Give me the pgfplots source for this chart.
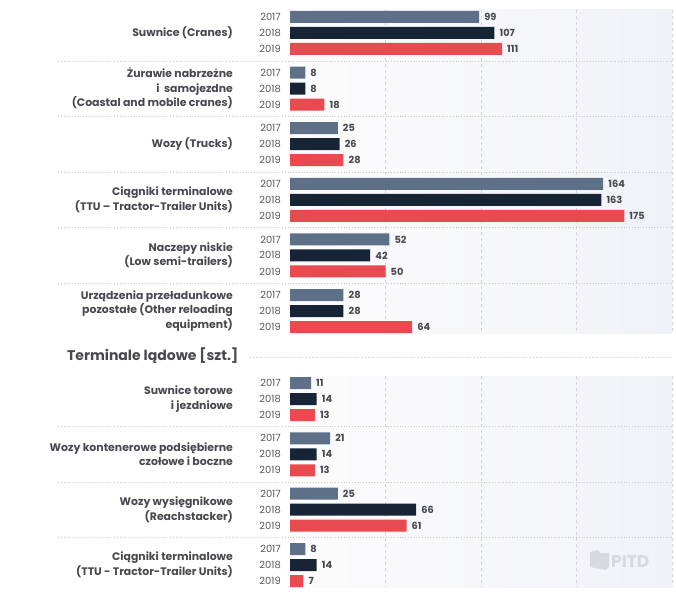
\documentclass[border=0pt]{standalone}
\usepackage{pgfplots}
\pgfplotsset{compat=1.18}
\usepackage{fontspec}
\setmainfont{Poppins}
\definecolor{cA}{RGB}{94,112,135}
\definecolor{cB}{RGB}{23,36,53}
\definecolor{cC}{RGB}{232,74,80}
\definecolor{txt}{RGB}{72,72,80}
\definecolor{yr}{RGB}{85,85,92}
\definecolor{sep}{RGB}{200,200,205}
\definecolor{grd}{RGB}{210,211,216}
\definecolor{bgL}{RGB}{252,252,253}
\definecolor{bgR}{RGB}{241,242,247}
\definecolor{wm}{RGB}{214,217,224}
\pgfplotsset{
  panel/.style={
    scale only axis, width=382pt,
    xmin=0, xmax=200, y dir=reverse,
    xbar, bar width=12pt, bar shift=0pt,
    axis line style={draw=none}, major tick length=0pt,
    xtick={50,100,150,200}, xticklabels={}, xmajorgrids,
    grid style={grd, dashed, line width=0.7pt},
    axis background/.style={left color=bgL, right color=bgR, shading angle=90},
    yticklabel style={font=\fontsize{9.9}{10}\selectfont, text=yr, inner sep=0pt, anchor=east, xshift=-9pt},
    /pgf/number format/assume math mode=true,
    nodes near coords,
    nodes near coords style={font=\bfseries\fontsize{9.8}{10}\selectfont, text=txt, anchor=west, inner sep=0pt, xshift=5pt},
    clip=false,
  },
}
\tikzset{cat/.style={anchor=east, align=right, text=txt, font=\bfseries\fontsize{10.9}{14.5}\selectfont, inner sep=0pt}}
\begin{document}
\begin{tikzpicture}
\path[use as bounding box] (0,0) rectangle (676pt,594pt);
% upper panel
\begin{axis}[panel, height=323pt, ymin=10, ymax=333, at={(290pt,261pt)}, anchor=south west,
  ytick={17,33,49,72.6,88.6,104.6,128.2,144.2,160.2,183.8,199.8,215.8,239.4,255.4,271.4,295,311,327},
  yticklabels={2017,2018,2019,2017,2018,2019,2017,2018,2019,2017,2018,2019,2017,2018,2019,2017,2018,2019}]
\addplot[fill=cA, draw=none] coordinates {(99,17) (8,72.6) (25,128.2) (164,183.8) (52,239.4) (28,295)};
\addplot[fill=cB, draw=none] coordinates {(107,33) (8,88.6) (26,144.2) (163,199.8) (42,255.4) (28,311)};
\addplot[fill=cC, draw=none] coordinates {(111,49) (18,104.6) (28,160.2) (175,215.8) (50,271.4) (64,327)};
\pgfplotsinvokeforeach{61,116.6,172.2,227.8,283.4}{
  \draw[sep, dotted, line width=0.8pt] (axis cs:-121.5,#1) -- (axis cs:200,#1);
}
\node[cat] at (axis cs:-29.8,33) {Suwnice (Cranes)};
\node[cat] at (axis cs:-29.8,88.6) {Żurawie nabrzeżne\\i\ \ samojezdne\\(Coastal and mobile cranes)};
\node[cat] at (axis cs:-29.8,144.2) {Wozy (Trucks)};
\node[cat] at (axis cs:-29.8,199.8) {Ciągniki terminalowe\\(TTU – Tractor-Trailer Units)};
\node[cat] at (axis cs:-29.8,255.4) {Naczepy niskie\\(Low semi-trailers)};
\node[cat] at (axis cs:-29.8,311) {Urządzenia przeładunkowe\\pozostałe (Other reloading\\equipment)};
\end{axis}
% header
\node[anchor=west, inner sep=0pt, text=txt, font=\bfseries\fontsize{14}{16}\selectfont] at (67pt,238pt) {Terminale lądowe [szt.]};
\draw[sep, dotted, line width=0.8pt] (250pt,237pt) -- (672pt,237pt);
% lower panel
\begin{axis}[panel, height=211pt, ymin=376, ymax=587, at={(290pt,7pt)}, anchor=south west,
  ytick={383,399,415,438.3,454.3,470.3,493.7,509.7,525.7,549,565,581},
  yticklabels={2017,2018,2019,2017,2018,2019,2017,2018,2019,2017,2018,2019}]
\addplot[fill=cA, draw=none] coordinates {(11,383) (21,438.3) (25,493.7) (8,549)};
\addplot[fill=cB, draw=none] coordinates {(14,399) (14,454.3) (66,509.7) (14,565)};
\addplot[fill=cC, draw=none] coordinates {(13,415) (13,470.3) (61,525.7) (7,581)};
\pgfplotsinvokeforeach{426.7,482,537.3}{
  \draw[sep, dotted, line width=0.8pt] (axis cs:-121.5,#1) -- (axis cs:200,#1);
}
\node[cat] at (axis cs:-29.8,399) {Suwnice torowe\\i jezdniowe};
\node[cat] at (axis cs:-29.8,454.3) {Wozy kontenerowe podsiębierne\\czołowe i boczne};
\node[cat] at (axis cs:-29.8,509.7) {Wozy wysięgnikowe\\(Reachstacker)};
\node[cat] at (axis cs:-29.8,565) {Ciągniki terminalowe\\(TTU - Tractor-Trailer Units)};
\end{axis}
% watermark
\fill[wm] (590pt,42pt) -- (590pt,27pt) -- (606pt,24pt) -- (609pt,27pt) -- (609pt,41pt) -- (600pt,41pt) -- (598pt,44pt) -- cycle;
\node[anchor=west, inner sep=0pt, text=wm, font=\bfseries\fontsize{17}{17}\selectfont] at (611pt,32.5pt) {PITD};
\end{tikzpicture}
\end{document}
